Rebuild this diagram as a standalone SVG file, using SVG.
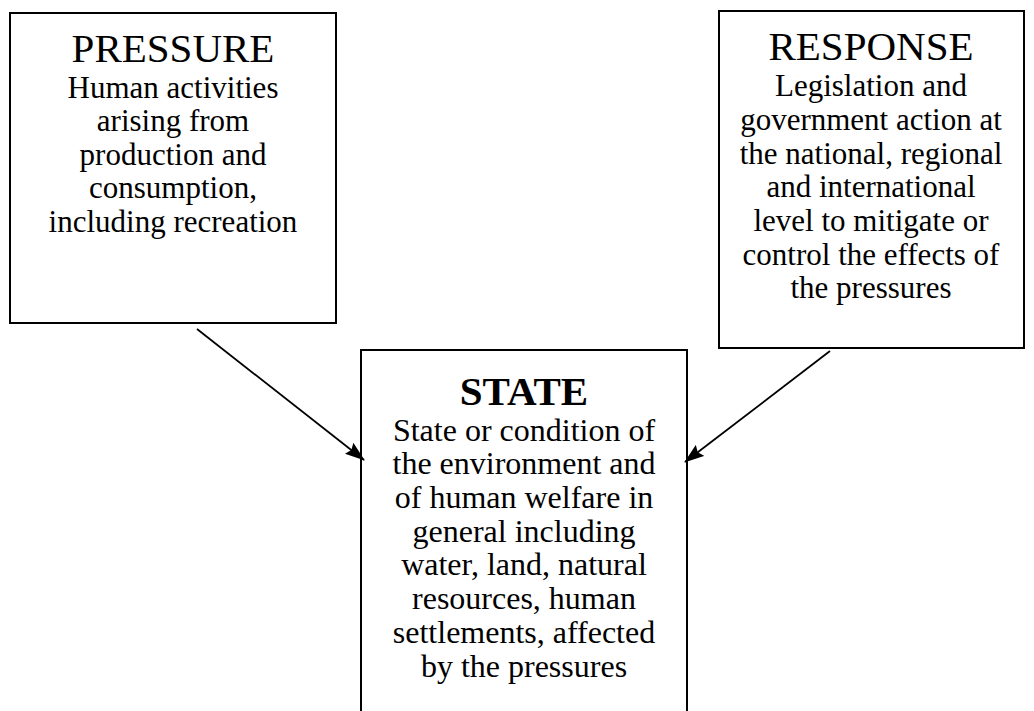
<svg xmlns="http://www.w3.org/2000/svg" width="1034" height="711" viewBox="0 0 1034 711">
<style>
.box{fill:#fff;stroke:#000;stroke-width:2}
.t{font-family:"Liberation Serif","Times New Roman",serif;fill:#000;text-anchor:middle}
.title{font-size:41px}
.btitle{font-size:41px;font-weight:bold}
.body{font-size:31px}
.sbody{font-size:32px}
.conn{stroke:#000;stroke-width:1.8;fill:none}
</style>
<defs>
<marker id="ah" markerWidth="20" markerHeight="14" refX="19" refY="7" orient="auto" markerUnits="userSpaceOnUse">
<path d="M0,0 L20,7 L0,14 L3,7 Z" fill="#000"/>
</marker>
</defs>
<rect width="1034" height="711" fill="#fff"/>
<g id="pressure">
<rect class="box" x="10" y="13" width="326" height="310"/>
<text class="t title" x="173" y="62">PRESSURE</text>
<text class="t body" x="173" y="98">Human activities</text>
<text class="t body" x="173" y="131">arising from</text>
<text class="t body" x="173" y="165">production and</text>
<text class="t body" x="173" y="198">consumption,</text>
<text class="t body" x="173" y="232">including recreation</text>
</g>
<g id="response">
<rect class="box" x="719" y="11" width="305" height="337"/>
<text class="t title" x="871" y="60">RESPONSE</text>
<text class="t body" x="871" y="96">Legislation and</text>
<text class="t body" x="871" y="130">government action at</text>
<text class="t body" x="871" y="164">the national, regional</text>
<text class="t body" x="871" y="197">and international</text>
<text class="t body" x="871" y="231">level to mitigate or</text>
<text class="t body" x="871" y="265">control the effects of</text>
<text class="t body" x="871" y="298">the pressures</text>
</g>
<g id="state">
<rect class="box" x="361" y="350" width="326" height="380"/>
<text class="t btitle" x="524" y="405">STATE</text>
<text class="t sbody" x="524" y="441">State or condition of</text>
<text class="t sbody" x="524" y="474">the environment and</text>
<text class="t sbody" x="524" y="508">of human welfare in</text>
<text class="t sbody" x="524" y="542">general including</text>
<text class="t sbody" x="524" y="575">water, land, natural</text>
<text class="t sbody" x="524" y="609">resources, human</text>
<text class="t sbody" x="524" y="643">settlements, affected</text>
<text class="t sbody" x="524" y="677">by the pressures</text>
</g>
<g id="connectors">
<line class="conn" x1="197" y1="329" x2="364" y2="460" marker-end="url(#ah)"/>
<line class="conn" x1="830" y1="351" x2="685" y2="462" marker-end="url(#ah)"/>
</g>
</svg>
